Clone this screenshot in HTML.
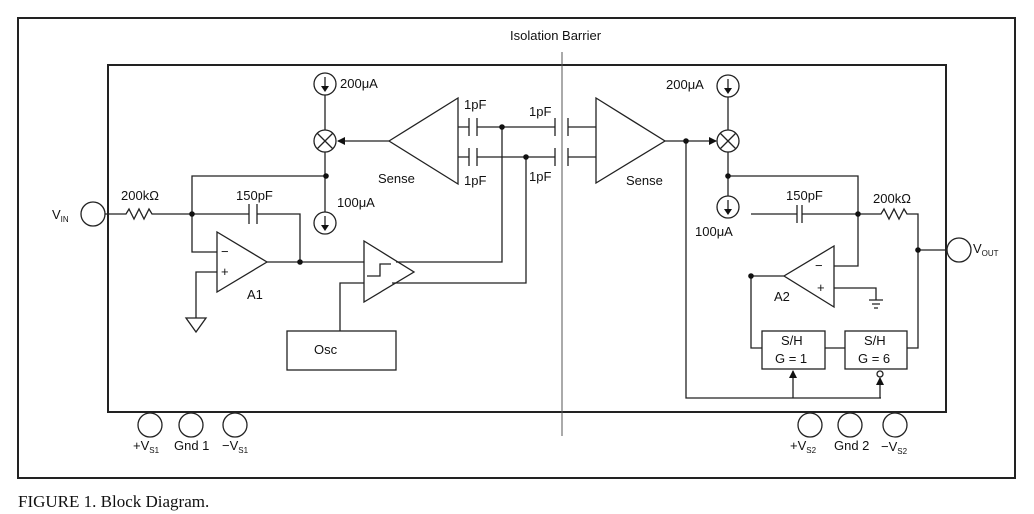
<!DOCTYPE html>
<html><head><meta charset="utf-8"><style>
html,body{margin:0;padding:0;background:#fff;}
svg{display:block;}
text{font-family:"Liberation Sans",sans-serif;font-size:13px;fill:#111;}
</style></head><body>
<svg width="1034" height="514" viewBox="0 0 1034 514" xmlns="http://www.w3.org/2000/svg">
<defs>
<marker id="ar" markerWidth="8" markerHeight="8" refX="7" refY="4" orient="auto" markerUnits="userSpaceOnUse"><path d="M0,0 L8,4 L0,8 z" fill="#111"/></marker>
</defs>
<g fill="none" stroke="#222" stroke-width="1.3">
<rect x="18" y="18" width="997" height="460" stroke-width="2"/>
<rect x="108" y="65" width="838" height="347" stroke-width="2"/>
<line x1="562" y1="52" x2="562" y2="436" stroke="#555" stroke-width="1"/>

<circle cx="93" cy="214" r="12"/>
<path d="M105,214 H126 l3,-5 l5,10 l5,-10 l5,10 l5,-10 l3,5 H249"/>
<path d="M249,204 V224 M257,204 V224"/>
<path d="M257,214 H300 V262"/>
<path d="M192,214 V176 H326"/>
<path d="M192,214 V252 H217"/>
<polygon points="217,232 217,292 267,262"/>
<path d="M217,272 H196 V318"/>
<polygon points="186,318 206,318 196,332"/>
<path d="M267,262 H364"/>
<polygon points="364,241 364,302 414,272"/>
<path d="M367,276 H380 V264 H391"/>
<path d="M396,262 H502 V127"/>
<path d="M392,283 H526 V157"/>
<path d="M364,283 H340 V331"/>
<rect x="287" y="331" width="109" height="39"/>

<circle cx="325" cy="84" r="11"/>
<path d="M325,77 V90"/>
<path d="M325,95 V130"/>
<circle cx="325" cy="141" r="11"/>
<path d="M317,133 L333,149 M333,133 L317,149"/>
<path d="M325,152 V212"/>
<circle cx="325" cy="223" r="11"/>
<path d="M325,216 V229"/>
<path d="M389,141 H338" marker-end="url(#ar)"/>
<polygon points="389,141 458,98 458,184"/>
<path d="M458,127 H469 M477,127 H555 M458,157 H469 M477,157 H555"/>
<path d="M469,118 V136 M477,118 V136 M469,148 V166 M477,148 V166"/>
<path d="M555,118 V136 M568,118 V136 M555,148 V166 M568,148 V166"/>
<path d="M568,127 H596 M568,157 H596"/>

<polygon points="596,98 596,183 665,141"/>
<path d="M665,141 H716" marker-end="url(#ar)"/>
<circle cx="728" cy="86" r="11"/>
<path d="M728,79 V92"/>
<path d="M728,97 V130"/>
<circle cx="728" cy="141" r="11"/>
<path d="M720,133 L736,149 M736,133 L720,149"/>
<path d="M728,152 V196"/>
<circle cx="728" cy="207" r="11"/>
<path d="M728,200 V213"/>
<path d="M728,176 H858 V266 H834"/>
<polygon points="834,246 834,307 784,276"/>
<path d="M784,276 H751 V348 H762"/>
<path d="M751,214 H797 M802,214 H858"/>
<path d="M797,205 V223 M802,205 V223"/>
<path d="M858,214 H881 l3,-5 l5,10 l5,-10 l5,10 l5,-10 l3,5 H918 V348 H907"/>
<path d="M918,250 H947"/>
<circle cx="959" cy="250" r="12"/>
<path d="M834,288 H876 V300"/>
<path d="M869,300 H883 M872,304 H880 M874,308 H878"/>
<rect x="762" y="331" width="63" height="38"/>
<rect x="845" y="331" width="62" height="38"/>
<path d="M825,348 H845"/>
<path d="M686,141 V398 H881"/>
<path d="M793,398 V371" marker-end="url(#ar)"/>
<path d="M880,398 V378" marker-end="url(#ar)"/>
<circle cx="880" cy="374" r="3" fill="#fff"/>

<circle cx="150" cy="425" r="12"/><circle cx="191" cy="425" r="12"/><circle cx="235" cy="425" r="12"/>
<circle cx="810" cy="425" r="12"/><circle cx="850" cy="425" r="12"/><circle cx="895" cy="425" r="12"/>
</g>
<g fill="#111">
<path d="M321,86 H329 L325,92 z"/><path d="M321,225 H329 L325,231 z"/>
<path d="M724,88 H732 L728,94 z"/><path d="M724,209 H732 L728,215 z"/>
<circle cx="192" cy="214" r="2.8"/><circle cx="300" cy="262" r="2.8"/><circle cx="326" cy="176" r="2.8"/>
<circle cx="502" cy="127" r="2.8"/><circle cx="526" cy="157" r="2.8"/>
<circle cx="686" cy="141" r="2.8"/><circle cx="728" cy="176" r="2.8"/><circle cx="858" cy="214" r="2.8"/>
<circle cx="751" cy="276" r="2.8"/><circle cx="918" cy="250" r="2.8"/>
</g>
<text x="510" y="40">Isolation Barrier</text>
<text x="52" y="219">V<tspan font-size="8" dy="3">IN</tspan></text>
<text x="121" y="200">200kΩ</text>
<text x="236" y="200">150pF</text>
<text x="221" y="256" font-size="12">−</text>
<text x="221" y="276" font-size="11">+</text>
<text x="247" y="299">A1</text>
<text x="340" y="88">200μA</text>
<text x="337" y="207">100μA</text>
<text x="378" y="183">Sense</text>
<text x="464" y="109">1pF</text>
<text x="464" y="185">1pF</text>
<text x="529" y="116">1pF</text>
<text x="529" y="181">1pF</text>
<text x="314" y="354">Osc</text>
<text x="666" y="89">200μA</text>
<text x="695" y="236">100μA</text>
<text x="626" y="185">Sense</text>
<text x="786" y="200">150pF</text>
<text x="873" y="203">200kΩ</text>
<text x="815" y="270" font-size="12">−</text>
<text x="817" y="292" font-size="11">+</text>
<text x="774" y="301">A2</text>
<text x="973" y="253">V<tspan font-size="8" dy="3">OUT</tspan></text>
<text x="781" y="345">S/H</text>
<text x="775" y="363">G = 1</text>
<text x="864" y="345">S/H</text>
<text x="858" y="363">G = 6</text>
<text x="133" y="450">+V<tspan font-size="8" dy="3">S1</tspan></text>
<text x="174" y="450">Gnd 1</text>
<text x="222" y="450">−V<tspan font-size="8" dy="3">S1</tspan></text>
<text x="790" y="450">+V<tspan font-size="8" dy="3">S2</tspan></text>
<text x="834" y="450">Gnd 2</text>
<text x="881" y="451">−V<tspan font-size="8" dy="3">S2</tspan></text>
<text x="18" y="507" style="font-family:'Liberation Serif',serif;font-size:17px">FIGURE 1. Block Diagram.</text>
</svg>
</body></html>
